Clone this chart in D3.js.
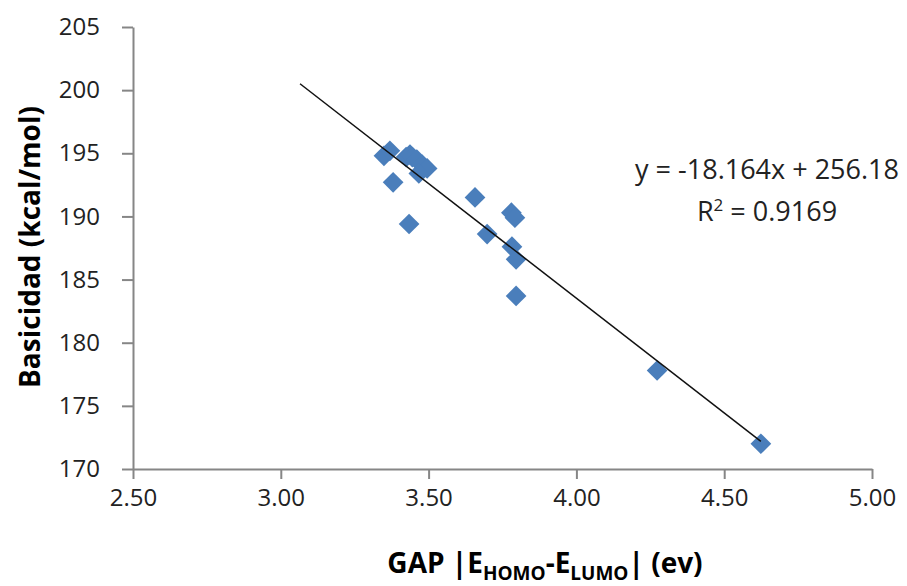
<!DOCTYPE html>
<html>
<head>
<meta charset="utf-8">
<script src="https://cdn.jsdelivr.net/npm/d3@7"></script>
<style>
  body { margin: 0; background: #fff; }
  text { font-family: "Open Sans", sans-serif; }
</style>
</head>
<body>
<script>
// GAP values (ev) and basicity (kcal/mol)
const gap = [3.349, 3.369, 3.38, 3.424, 3.437, 3.434, 3.445, 3.46, 3.478, 3.495, 3.467, 3.657, 3.698, 3.78, 3.792, 3.782, 3.796, 3.796, 4.273, 4.624];
const basicidad = [194.8, 195.2, 192.7, 194.7, 194.9, 189.4, 194.7, 194.5, 194.1, 193.8, 193.4, 191.5, 188.6, 190.3, 189.9, 187.6, 186.6, 183.7, 177.8, 172.0];
const xTicks = [2.5, 3.0, 3.5, 4.0, 4.5, 5.0];
const yTicks = [170, 175, 180, 185, 190, 195, 200, 205];
const slope = -18.164, intercept = 256.18;
const trendRange = [3.065, 4.624];

const width = 907, height = 586;
const mLeft = 133, mRight = 872, mTop = 27, mBottom = 469;

let svg = d3.select("body")
  .append("svg")
  .attr("width", width)
  .attr("height", height);

let x = d3.scaleLinear().domain([2.5, 5.0]).range([mLeft, mRight]);
let y = d3.scaleLinear().domain([170, 205]).range([mBottom, mTop]);

// axes
let xAxis = svg.append("g")
  .attr("transform", `translate(0,${mBottom})`)
  .call(d3.axisBottom(x).tickValues(xTicks).tickFormat(d3.format(".2f")).tickSize(10).tickSizeOuter(0).tickPadding(10));
let yAxis = svg.append("g")
  .attr("transform", `translate(${mLeft},0)`)
  .call(d3.axisLeft(y).tickValues(yTicks).tickSize(11).tickSizeOuter(0).tickPadding(22));

[xAxis, yAxis].forEach(a => {
  a.selectAll("path, line").attr("stroke", "#868686").attr("stroke-width", 2);
  a.selectAll("text").attr("font-size", 24).attr("fill", "#222");
});

// markers
const pts = gap.map((g, i) => [g, basicidad[i]]);
svg.append("g").selectAll("path")
  .data(pts)
  .enter()
  .append("path")
  .attr("d", d3.symbol(d3.symbolSquare, 215))
  .attr("transform", d => `translate(${x(d[0])},${y(d[1])}) rotate(45)`)
  .attr("fill", "#4a7ebb");

// linear trendline
svg.append("line")
  .attr("x1", x(trendRange[0])).attr("y1", y(slope * trendRange[0] + intercept))
  .attr("x2", x(trendRange[1])).attr("y2", y(slope * trendRange[1] + intercept))
  .attr("stroke", "#111")
  .attr("stroke-width", 1.5);

// equation
svg.append("text")
  .attr("x", 767).attr("y", 179)
  .attr("text-anchor", "middle")
  .attr("font-size", 27).attr("fill", "#222")
  .text("y = -18.164x + 256.18");
let r2 = svg.append("text")
  .attr("x", 767).attr("y", 221)
  .attr("text-anchor", "middle")
  .attr("font-size", 27).attr("fill", "#222");
r2.append("tspan").text("R");
r2.append("tspan").attr("dy", -10).attr("font-size", 17).text("2");
r2.append("tspan").attr("dy", 10).text(" = 0.9169");

// axis titles
svg.append("text")
  .attr("transform", "translate(40,247) rotate(-90)")
  .attr("text-anchor", "middle")
  .attr("font-size", 28).attr("font-weight", "bold")
  .text("Basicidad (kcal/mol)");

let xt = svg.append("text")
  .attr("x", 545).attr("y", 573)
  .attr("text-anchor", "middle")
  .attr("font-size", 28).attr("font-weight", "bold");
xt.append("tspan").text("GAP |E");
xt.append("tspan").attr("dy", 7).attr("font-size", 19).text("HOMO");
xt.append("tspan").attr("dy", -7).text("-E");
xt.append("tspan").attr("dy", 7).attr("font-size", 19).text("LUMO");
xt.append("tspan").attr("dy", -7).text("|  (ev)");
</script>
</body>
</html>
